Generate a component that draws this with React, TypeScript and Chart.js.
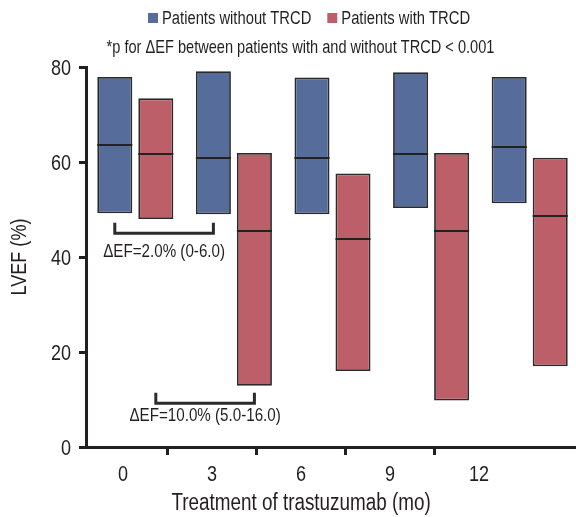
import React, { useEffect, useRef } from 'react';
import { Chart, registerables } from 'chart.js';

Chart.register(...registerables);

// ---- data ----
const months = [0, 3, 6, 9, 12];
const seriesLabels = ['Patients without TRCD', 'Patients with TRCD'];
const seriesColors = ['#566d9b', '#bd5f69'];

const withoutLow = [49.2, 49.0, 49.0, 50.3, 51.3];
const withoutMedian = [63.6, 60.8, 60.8, 61.6, 63.1];
const withoutHigh = [77.9, 79.1, 77.8, 78.9, 77.9];

const withLow = [48.0, 12.9, 16.0, 9.8, 17.0];
const withMedian = [61.6, 45.4, 43.7, 45.5, 48.6];
const withHigh = [73.4, 61.9, 57.6, 61.9, 60.9];

const yTicks = [0, 20, 40, 60, 80];

const xTitle = 'Treatment of trastuzumab (mo)';
const yTitle = 'LVEF (%)';
const subtitle = '*p for \u0394EF between patients with and without TRCD < 0.001';

// brackets: series index, from/to category index, levels (data units), label
const bracketSeries = [0, 1];
const bracketFrom = [0, 0];
const bracketTo = [1, 1];
const bracketLevel = [45.0, 9.2];
const bracketLegTop = [47.2, 11.4];
const bracketTextLevel = [40.1, 5.5];
const bracketLabels = ['\u0394EF=2.0% (0-6.0)', '\u0394EF=10.0% (5.0-16.0)'];

const FONT = '"Liberation Sans", Arimo, Arial, sans-serif';
const NARROW = 0.82;
const TEXT = '#231f20';
const AXIS = '#231f20';

const medians = [withoutMedian, withMedian];

function narrowText(
  ctx: CanvasRenderingContext2D,
  text: string,
  x: number,
  y: number,
  size: number,
  align: CanvasTextAlign,
  rotate = 0
) {
  ctx.save();
  ctx.translate(x, y);
  if (rotate) ctx.rotate(rotate);
  ctx.scale(NARROW, 1);
  ctx.font = `${size}px ${FONT}`;
  ctx.textAlign = align;
  ctx.textBaseline = 'alphabetic';
  ctx.fillStyle = TEXT;
  ctx.fillText(text, 0, 0);
  ctx.restore();
}

function narrowWidth(ctx: CanvasRenderingContext2D, text: string, size: number) {
  ctx.save();
  ctx.font = `${size}px ${FONT}`;
  const w = ctx.measureText(text).width * NARROW;
  ctx.restore();
  return w;
}

const overlayPlugin = {
  id: 'overlay',
  afterDatasetsDraw(chart: any) {
    const ctx = chart.ctx;
    const yScale = chart.scales.y;
    ctx.save();
    // median lines
    ctx.strokeStyle = '#222';
    ctx.lineWidth = 2;
    medians.forEach((med, d) => {
      const meta = chart.getDatasetMeta(d);
      meta.data.forEach((bar: any, i: number) => {
        const { x, width } = bar.getProps(['x', 'width'], true);
        const y = Math.round(yScale.getPixelForValue(med[i]));
        ctx.beginPath();
        ctx.moveTo(x - width / 2, y);
        ctx.lineTo(x + width / 2, y);
        ctx.stroke();
      });
    });
    // brackets
    ctx.strokeStyle = '#2b2b2b';
    ctx.lineWidth = 3;
    bracketLabels.forEach((label, b) => {
      const meta = chart.getDatasetMeta(bracketSeries[b]);
      const x1 = meta.data[bracketFrom[b]].x;
      const x2 = meta.data[bracketTo[b]].x;
      const yl = yScale.getPixelForValue(bracketLevel[b]);
      const yt = yScale.getPixelForValue(bracketLegTop[b]);
      ctx.beginPath();
      ctx.moveTo(x1, yt);
      ctx.lineTo(x1, yl);
      ctx.lineTo(x2, yl);
      ctx.lineTo(x2, yt);
      ctx.stroke();
      narrowText(ctx, label, (x1 + x2) / 2, yScale.getPixelForValue(bracketTextLevel[b]), 18.5, 'center');
    });
    ctx.restore();
  },
  afterDraw(chart: any) {
    const ctx = chart.ctx;
    const xs = chart.scales.x;
    const ys = chart.scales.y;
    // tick labels
    months.forEach((m) => narrowText(ctx, String(m), xs.getPixelForValue(m), 481, 22, 'center'));
    yTicks.forEach((v) => narrowText(ctx, String(v), 71, ys.getPixelForValue(v) + 8, 22, 'right'));
    // axis titles
    narrowText(ctx, xTitle, xs.getPixelForValue(months[2]), 510, 23, 'center');
    narrowText(ctx, yTitle, 26, (ys.top + ys.bottom) / 2, 22, 'center', -Math.PI / 2);
    // legend
    let x = 148;
    seriesLabels.forEach((label, i) => {
      ctx.save();
      ctx.fillStyle = seriesColors[i];
      ctx.fillRect(x, 13, 10, 10);
      ctx.restore();
      narrowText(ctx, label, x + 14, 24, 18, 'left');
      x += 14 + narrowWidth(ctx, label, 18) + 16;
    });
    narrowText(ctx, subtitle, 300.5, 53, 17.8, 'center');
  },
};

export default function App() {
  const ref = useRef<HTMLCanvasElement | null>(null);
  useEffect(() => {
    if (!ref.current) return;
    const separators = months.slice(1).map((m, i) => (m + months[i]) / 2);
    const xTicks = [...months, ...separators].sort((a, b) => a - b);
    const barStyle = {
      borderColor: '#2a2a2a',
      borderWidth: 1.8,
      borderSkipped: false,
      xAxisID: 'xb',
      yAxisID: 'y',
      categoryPercentage: 0.832,
      barPercentage: 0.854,
    };
    const chart = new Chart(ref.current, {
      type: 'bar',
      data: {
        labels: months.map(String),
        datasets: [
          {
            label: seriesLabels[0],
            data: withoutLow.map((v, i) => [v, withoutHigh[i]]),
            backgroundColor: seriesColors[0],
            ...barStyle,
          },
          {
            label: seriesLabels[1],
            data: withLow.map((v, i) => [v, withHigh[i]]),
            backgroundColor: seriesColors[1],
            ...barStyle,
          },
        ] as any,
      },
      options: {
        responsive: false,
        animation: false,
        devicePixelRatio: 1,
        layout: { padding: { top: 67, left: 0, right: 0, bottom: 0 } },
        plugins: { legend: { display: false }, tooltip: { enabled: false } },
        scales: {
          xb: {
            type: 'category',
            display: false,
            offset: true,
          },
          x: {
            type: 'linear',
            position: 'bottom',
            offset: false,
            min: -1.25,
            max: 15.37,
            afterBuildTicks: (s: any) => {
              s.ticks = xTicks.map((v) => ({ value: v }));
            },
            afterFit: (s: any) => {
              s.height = 70;
            },
            ticks: { display: false, autoSkip: false, maxRotation: 0 },
            grid: {
              offset: false,
              drawOnChartArea: false,
              tickLength: 8,
              tickWidth: 3,
              tickColor: (c: any) => (c.tick && months.includes(c.tick.value) ? 'rgba(0,0,0,0)' : AXIS),
            },
            border: { color: AXIS, width: 3 },
            title: { display: false },
          },
          y: {
            type: 'linear',
            min: 0,
            max: 80,
            stacked: false,
            afterBuildTicks: (s: any) => {
              s.ticks = yTicks.map((v) => ({ value: v }));
            },
            afterFit: (s: any) => {
              s.width = 86;
            },
            ticks: { display: false },
            grid: {
              drawOnChartArea: false,
              tickLength: 7,
              tickWidth: 3,
              tickColor: AXIS,
            },
            border: { color: AXIS, width: 3 },
            title: { display: false },
          },
        } as any,
      },
      plugins: [overlayPlugin],
    });
    return () => chart.destroy();
  }, []);

  return (
    <div style={{ position: 'fixed', left: 0, top: 0, width: 576, height: 517, overflow: 'hidden', background: '#fff' }}>
      <canvas ref={ref} width={579} height={517} style={{ display: 'block' }} />
    </div>
  );
}
